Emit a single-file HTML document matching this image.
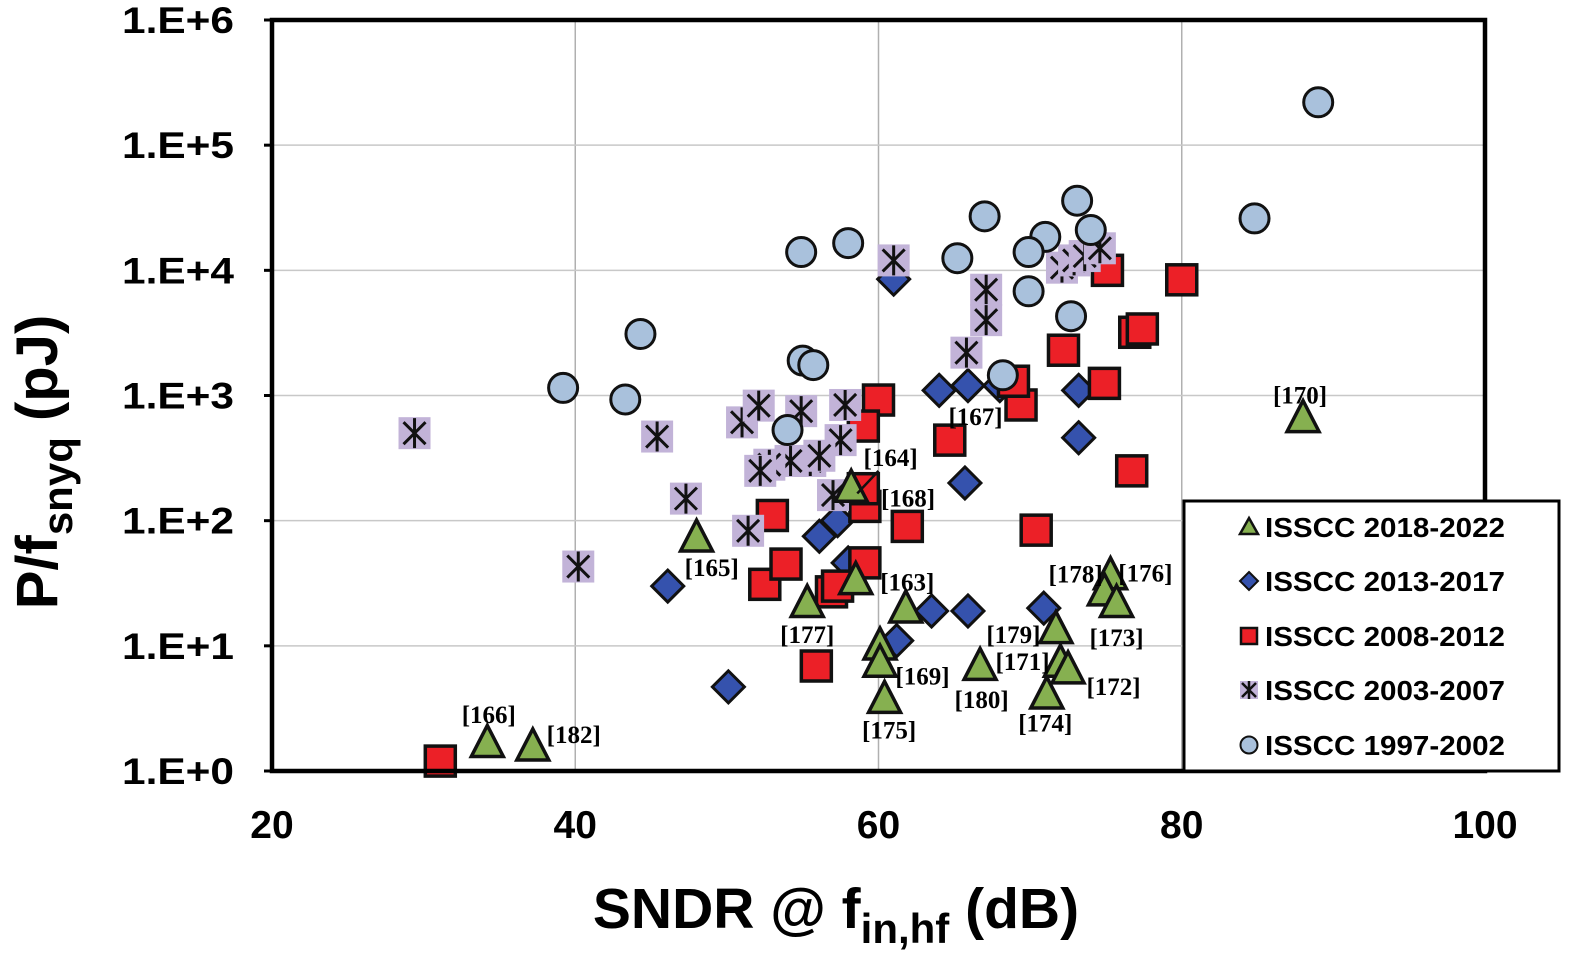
<!DOCTYPE html>
<html><head><meta charset="utf-8">
<style>
html,body{margin:0;padding:0;background:#fff;}
svg{display:block;font-family:"Liberation Sans",sans-serif;}
</style></head>
<body>
<svg id="chart" width="1575" height="957" viewBox="0 0 1575 957" xmlns="http://www.w3.org/2000/svg"></svg>
<script>
// ---- data ----
const xTicks = [20, 40, 60, 80, 100];
const yTicks = [0, 1, 2, 3, 4, 5, 6];
const yTickLabels = ["1.E+0","1.E+1","1.E+2","1.E+3","1.E+4","1.E+5","1.E+6"];

const circX = [89.0,84.8,73.1,74.0,71.0,69.9,67.0,65.2,58.0,54.9,69.9,72.7,68.2,44.3,39.2,43.3,55.0,55.7,54.0];
const circY = [2.2e5,2.6e4,3.6e4,2.1e4,1.85e4,1.4e4,2.7e4,1.25e4,1.65e4,1.4e4,6.8e3,4.3e3,1.45e3,3.1e3,1.15e3,930,1.9e3,1.75e3,530];

const starX = [29.4,40.2,45.4,47.3,51.4,51.0,52.1,54.9,57.8,61.0,67.1,67.1,65.8,72.1,72.9,73.6,74.6,57.0,57.5,55.5,54.2,52.8,52.2,56.1];
const starY = [500,43,470,150,83,610,830,750,840,1.2e4,7e3,4e3,2.2e3,1.05e4,1.2e4,1.3e4,1.5e4,160,440,300,300,280,250,330];

const sqX = [31.1,52.5,55.9,53.9,53.0,56.9,59.1,60.0,59.0,59.1,61.9,64.7,69.4,68.9,70.4,72.2,74.9,76.7,76.9,77.4,75.1,80.0,57.3,59.0];
const sqY = [1.2,31,6.9,45,110,27,46,920,570,130,90,440,840,1300,84,2300,1250,250,3200,3400,1e4,8400,30,180];

const diaX = [46.1,50.1,56.1,57.3,58.0,61.2,63.5,65.9,70.9,64.0,65.9,68.0,73.2,73.2,65.7,61.0];
const diaY = [30,4.7,75,100,46,11,19,19,20,1100,1200,1200,460,1100,200,8500];

const triX = [88.0,48.0,34.2,37.2,55.3,58.5,61.8,60.1,60.1,60.4,66.7,71.7,72.0,72.5,71.1,75.3,74.9,75.7,58.2];
const triY = [630,70,1.6,1.5,21,32,19,9.6,7,3.6,6.6,13,7,6.2,3.9,35,26,21,175];

const labelText = ["[170]","[165]","[166]","[182]","[177]","[163]","[169]","[175]","[180]","[179]","[171]","[172]","[174]","[178]","[176]","[173]","[164]","[168]","[167]"];
const labelX = [87.8,49.0,34.3,39.9,55.3,61.9,62.9,60.7,66.8,68.9,69.5,75.5,71.0,73.0,77.6,75.7,60.8,61.95,66.4];
const labelY = [1000,42,2.8,1.94,12.2,32,5.7,2.1,3.7,12.2,7.4,4.7,2.4,37,38,11.5,316,151,675];

// ---- axes ----
const L=272,R=1485,T=20,B=771;
const xs = v => L + (v-20)/80*(R-L);
const ys = v => B - Math.log10(v)/6*(B-T);
const yl = e => B - e/6*(B-T);
const svg = document.getElementById('chart');
const NS='http://www.w3.org/2000/svg';
function mk(tag, attrs, parent){
  const el=document.createElementNS(NS,tag);
  for(const k in attrs) el.setAttribute(k,attrs[k]);
  (parent||svg).appendChild(el); return el;
}
// grid
const grid = mk('g',{});


xTicks.slice(1,-1).forEach(v=>mk('line',{x1:xs(v),x2:xs(v),y1:T,y2:B,stroke:'#b0b0b0','stroke-width':1.5},grid));
yTicks.slice(1,-1).forEach(e=>mk('line',{x1:L,x2:R,y1:yl(e),y2:yl(e),stroke:'#c8c8c8','stroke-width':1.5},grid));

// tick labels
xTicks.forEach(v=>{
  const t=mk('text',{x:xs(v),y:838,'text-anchor':'middle','font-size':39,'font-weight':'bold'});
  
  
  t.textContent=v;
});
yTicks.forEach((e,i)=>{
  const t=mk('text',{x:234,y:yl(e)+13,'text-anchor':'end','font-size':37,'font-weight':'bold',textLength:112,lengthAdjust:'spacingAndGlyphs'});
  
  
  t.textContent=yTickLabels[i];
});
yTicks.forEach(e=>mk('line',{x1:L-8,x2:L,y1:yl(e),y2:yl(e),stroke:'#000','stroke-width':3}));

// markers
function circle(g,cx,cy){mk('circle',{cx,cy,r:14.5,fill:'#a9c1dc',stroke:'#111','stroke-width':3},g);}
function star(g,cx,cy){
  mk('rect',{x:cx-16,y:cy-16,width:32,height:32,fill:'#c2b3d8'},g);
  const s=11;
  mk('path',{d:`M${cx-s} ${cy-s}L${cx+s} ${cy+s}M${cx+s} ${cy-s}L${cx-s} ${cy+s}M${cx} ${cy-15}L${cx} ${cy+15}`,stroke:'#111','stroke-width':3,fill:'none'},g);
}
function square(g,cx,cy){mk('rect',{x:cx-15,y:cy-15,width:30,height:30,fill:'#ec2027',stroke:'#111','stroke-width':3.5},g);}
function diamond(g,cx,cy){const d=16;mk('path',{d:`M${cx} ${cy-d}L${cx+d} ${cy}L${cx} ${cy+d}L${cx-d} ${cy}Z`,fill:'#3552ad',stroke:'#111','stroke-width':3},g);}
function tri(g,cx,cy){mk('path',{d:`M${cx} ${cy-20}L${cx+16} ${cy+11}L${cx-16} ${cy+11}Z`,fill:'#86b050',stroke:'#111','stroke-width':3.5,'stroke-linejoin':'miter'},g);}

function series(name,X,Y,fn){
  const g=mk('g',{});
  
  
  X.forEach((x,i)=>{
    const p=mk('g',{},g);
    
    
    fn(p,xs(x),ys(Y[i]));
  });
}
series('series-2013-2017',diaX,diaY,diamond);
series('series-2008-2012',sqX,sqY,square);
series('series-2003-2007',starX,starY,star);
series('series-1997-2002',circX,circY,circle);
series('series-2018-2022',triX,triY,tri);

// labels
labelText.forEach((s,i)=>{
  const t=mk('text',{x:xs(labelX[i]),y:ys(labelY[i])+8,'text-anchor':'middle','font-size':25,'font-family':'"Liberation Serif",serif','font-weight':'bold'});
  
  
  t.textContent=s;
});
// leader line for [164]
mk('line',{x1:xs(60.0),y1:ys(250),x2:xs(58.6),y2:ys(165),stroke:'#111','stroke-width':2.5});

// frame
const fr=mk('rect',{x:L,y:T,width:R-L,height:B-T,fill:'none',stroke:'#000','stroke-width':4.5});



// legend
const lg=mk('g',{});


mk('rect',{x:1184,y:501,width:375,height:270,fill:'#fff',stroke:'#000','stroke-width':3},lg);
const legNames=["ISSCC 2018-2022","ISSCC 2013-2017","ISSCC 2008-2012","ISSCC 2003-2007","ISSCC 1997-2002"];
const legY=[527,581,636,690,745];
legNames.forEach((n,i)=>{
  const e=mk('g',{},lg);
  
  
  const cx=1249,cy=legY[i];
  if(i==0) mk('path',{d:`M${cx} ${cy-9}L${cx+9} ${cy+7}L${cx-9} ${cy+7}Z`,fill:'#86b050',stroke:'#111','stroke-width':2.5},e);
  if(i==1) mk('path',{d:`M${cx} ${cy-9}L${cx+9} ${cy}L${cx} ${cy+9}L${cx-9} ${cy}Z`,fill:'#3552ad',stroke:'#111','stroke-width':2},e);
  if(i==2) mk('rect',{x:cx-8,y:cy-8,width:16,height:16,fill:'#ec2027',stroke:'#111','stroke-width':2.5},e);
  if(i==3){mk('rect',{x:cx-9,y:cy-9,width:18,height:18,fill:'#c2b3d8'},e);mk('path',{d:`M${cx-7} ${cy-7}L${cx+7} ${cy+7}M${cx+7} ${cy-7}L${cx-7} ${cy+7}M${cx} ${cy-9}L${cx} ${cy+9}`,stroke:'#111','stroke-width':2.5},e);}
  if(i==4) mk('circle',{cx,cy,r:8.5,fill:'#a9c1dc',stroke:'#111','stroke-width':2},e);
  const t=mk('text',{x:1265,y:cy+10,'font-size':28,'font-weight':'bold',textLength:240,lengthAdjust:'spacingAndGlyphs'},e);
  t.textContent=n;
});

// axis titles
const xt=mk('text',{x:836,y:928,'text-anchor':'middle','font-size':57,'font-weight':'bold'});


xt.innerHTML='SNDR @ f<tspan font-size="42" dy="15">in,hf</tspan><tspan dy="-15"> (dB)</tspan>';
const yt=mk('text',{x:0,y:0,'text-anchor':'middle','font-size':58,'font-weight':'bold',transform:'translate(57,462) rotate(-90)'});


yt.innerHTML='P/f<tspan font-size="42" dy="15">snyq</tspan><tspan dy="-15"> (pJ)</tspan>';
</script>
</body></html>
